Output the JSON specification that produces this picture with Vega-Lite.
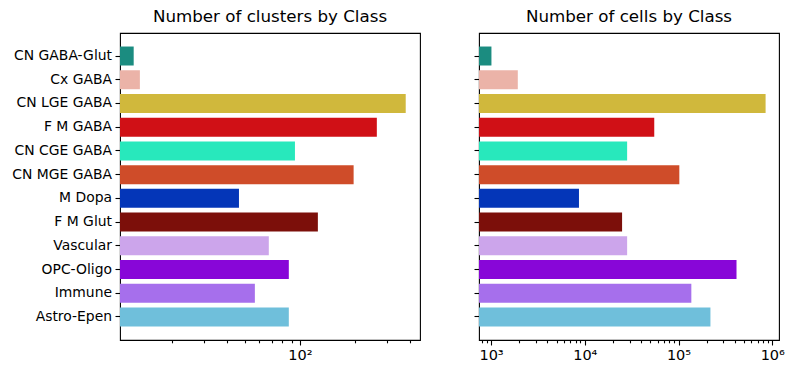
{
  "$schema": "https://vega.github.io/schema/vega-lite/v6.json",
  "background": "white",
  "padding": {"left": 11, "top": 8, "right": 5, "bottom": 5},
  "config": {
    "font": "DejaVu Sans",
    "view": {"stroke": "black", "strokeWidth": 1.1},
    "axis": {
      "grid": false,
      "domain": false,
      "tickColor": "black",
      "tickWidth": 1.1,
      "labelColor": "black",
      "labelFont": "DejaVu Sans",
      "labelFontSize": 13.9,
      "labelPadding": 3.5,
      "title": null
    },
    "title": {"font": "DejaVu Sans", "fontSize": 16.7, "fontWeight": "normal", "color": "black", "offset": 7}
  },
  "data": {
    "values": [
      {"name": "CN GABA-Glut", "clusters": 12.3, "cells": 1010},
      {"name": "Cx GABA", "clusters": 13.3, "cells": 1930},
      {"name": "CN LGE GABA", "clusters": 380, "cells": 849000},
      {"name": "F M GABA", "clusters": 264, "cells": 55100},
      {"name": "CN CGE GABA", "clusters": 94, "cells": 28300},
      {"name": "CN MGE GABA", "clusters": 197, "cells": 102000},
      {"name": "M Dopa", "clusters": 46.4, "cells": 8670},
      {"name": "F M Glut", "clusters": 125.5, "cells": 25000},
      {"name": "Vascular", "clusters": 67.6, "cells": 28300},
      {"name": "OPC-Oligo", "clusters": 87, "cells": 415600},
      {"name": "Immune", "clusters": 56.7, "cells": 137000},
      {"name": "Astro-Epen", "clusters": 87, "cells": 219000}
    ]
  },
  "spacing": 51,
  "hconcat": [
    {
      "title": "Number of clusters by Class",
      "width": 300,
      "height": 307,
      "mark": {"type": "bar"},
      "encoding": {
        "y": {
          "field": "name", "type": "nominal", "sort": null,
          "scale": {"paddingInner": 0.2, "paddingOuter": 0.57},
          "axis": {"tickSize": 5, "labelPadding": 3.5}
        },
        "x": {
          "field": "clusters", "type": "quantitative", "stack": null,
          "scale": {"type": "log", "domain": [10.35, 455], "nice": false},
          "axis": {
            "values": [20, 30, 40, 50, 60, 70, 80, 90, 100, 200, 300, 400],
            "labelExpr": "datum.value == 100 ? '10²' : ''",
            "labelFontSize": 14.5,
            "tickSize": {"condition": {"test": "datum.value == 100", "value": 5}, "value": 2.8},
            "labelFlush": false,
            "labelOverlap": false
          }
        },
        "x2": {"value": 0},
        "color": {
          "field": "name", "type": "nominal", "legend": null,
          "scale": {
            "domain": ["CN GABA-Glut", "Cx GABA", "CN LGE GABA", "F M GABA", "CN CGE GABA", "CN MGE GABA", "M Dopa", "F M Glut", "Vascular", "OPC-Oligo", "Immune", "Astro-Epen"],
            "range": ["#1b8c80", "#ebb3a8", "#d0b83c", "#d01016", "#28e8bc", "#cf4c29", "#0436b8", "#7c0f0a", "#cca5eb", "#8806d8", "#a66fec", "#6fbfdb"]
          }
        }
      }
    },
    {
      "title": "Number of cells by Class",
      "width": 300,
      "height": 307,
      "mark": {"type": "bar"},
      "encoding": {
        "y": {
          "field": "name", "type": "nominal", "sort": null,
          "scale": {"paddingInner": 0.2, "paddingOuter": 0.57},
          "axis": {"tickSize": 5, "labels": false}
        },
        "x": {
          "field": "cells", "type": "quantitative", "stack": null,
          "scale": {"type": "log", "domain": [744, 1180000], "nice": false},
          "axis": {
            "values": [800, 900, 1000, 2000, 3000, 4000, 5000, 6000, 7000, 8000, 9000, 10000, 20000, 30000, 40000, 50000, 60000, 70000, 80000, 90000, 100000, 200000, 300000, 400000, 500000, 600000, 700000, 800000, 900000, 1000000],
            "labelExpr": "datum.value == 1000 ? '10³' : datum.value == 10000 ? '10⁴' : datum.value == 100000 ? '10⁵' : datum.value == 1000000 ? '10⁶' : ''",
            "labelFontSize": 14.5,
            "tickSize": {"condition": {"test": "datum.value == 1000 || datum.value == 10000 || datum.value == 100000 || datum.value == 1000000", "value": 5}, "value": 2.8},
            "labelFlush": false,
            "labelOverlap": false
          }
        },
        "x2": {"value": 0},
        "color": {
          "field": "name", "type": "nominal", "legend": null,
          "scale": {
            "domain": ["CN GABA-Glut", "Cx GABA", "CN LGE GABA", "F M GABA", "CN CGE GABA", "CN MGE GABA", "M Dopa", "F M Glut", "Vascular", "OPC-Oligo", "Immune", "Astro-Epen"],
            "range": ["#1b8c80", "#ebb3a8", "#d0b83c", "#d01016", "#28e8bc", "#cf4c29", "#0436b8", "#7c0f0a", "#cca5eb", "#8806d8", "#a66fec", "#6fbfdb"]
          }
        }
      }
    }
  ]
}
